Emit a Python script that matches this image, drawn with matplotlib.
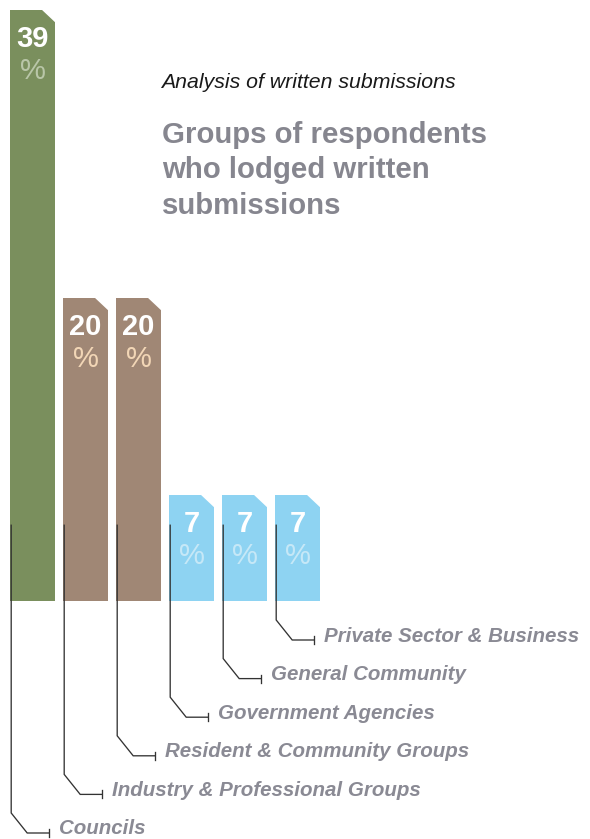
import matplotlib.pyplot as plt
from matplotlib.patches import Polygon

# chart data
groups = ['Councils', 'Industry & Professional Groups', 'Resident & Community Groups',
          'Government Agencies', 'General Community', 'Private Sector & Business']
shares = [39, 20, 20, 7, 7, 7]
bar_colors = ['#7a8f5d', '#a08775', '#a08775', '#8ed3f2', '#8ed3f2', '#8ed3f2']
pct_colors = ['#b9c6a8', '#f2d6b6', '#f2d6b6', '#c6e8f7', '#c6e8f7', '#c6e8f7']

W, H = 590, 839
ux = 53.0       # pixels per category step
uy = 15.154     # pixels per percentage point
base_px = 601   # baseline row in the image
first_px = 32.5 # centre of the first bar

fig = plt.figure(figsize=(W / 100, H / 100), dpi=100)
ax = fig.add_axes([0, 0, 1, 1])
ax.set_xlim(-first_px / ux, (W - first_px) / ux)
ax.set_ylim((base_px - H) / uy, base_px / uy)
ax.axis('off')

width = 45 / ux
xs = list(range(len(shares)))
bars = ax.bar(xs, shares, width=width, color=bar_colors, linewidth=0)

# clipped top-right corner on every bar
cx, cy = 14 / ux, 15 / uy
for x, v in zip(xs, shares):
    r = x + width / 2
    ax.add_patch(Polygon([(r - cx, v + 0.05), (r + 0.05, v + 0.05), (r + 0.05, v - cy)],
                         closed=True, facecolor='white', edgecolor='none'))

font = 'Liberation Sans'
for x, v, pc in zip(xs, shares, pct_colors):
    ax.annotate(str(v), (x, v), xytext=(0, -29), textcoords='offset pixels',
                ha='center', va='center', fontsize=21, fontweight='bold',
                color='white', family=font)
    ax.annotate('%', (x, v), xytext=(0, -61), textcoords='offset pixels',
                ha='center', va='center', fontsize=21, color=pc, family=font)

# leader lines and category labels
line_top = 5.0
label_color = '#8a8a94'
for i, (x, name) in enumerate(zip(xs, groups)):
    x0 = x - width / 2 + 1.2 / ux
    corner_px = 813 - 38.6 * i
    y1 = (base_px - corner_px) / uy
    y2 = y1 - 20 / uy
    x1 = x0 + 16 / ux
    x2 = x0 + 38 / ux
    ax.plot([x0, x0, x1, x2], [line_top, y1, y2, y2], color='#333333', lw=0.95,
            solid_joinstyle='miter')
    ax.plot([x2, x2], [y2 + 4 / uy, y2 - 4 / uy], color='#333333', lw=0.95)
    ax.annotate(name, (x2, y2), xytext=(10, 4), textcoords='offset pixels',
                ha='left', va='center', fontsize=14.8, fontweight='bold',
                fontstyle='italic', color=label_color, family=font)

fig.text(161 / W, 1 - 82 / H, 'Analysis of written submissions', ha='left', va='center',
         fontsize=15.3, fontstyle='italic', color='#1a1a1a', family=font)
fig.text(162 / W, 1 - 121 / H, 'Groups of respondents\nwho lodged written\nsubmissions',
         ha='left', va='top', fontsize=21.2, fontweight='bold', color='#86868f',
         family=font, linespacing=1.33)

plt.savefig('out.png', dpi=100)
